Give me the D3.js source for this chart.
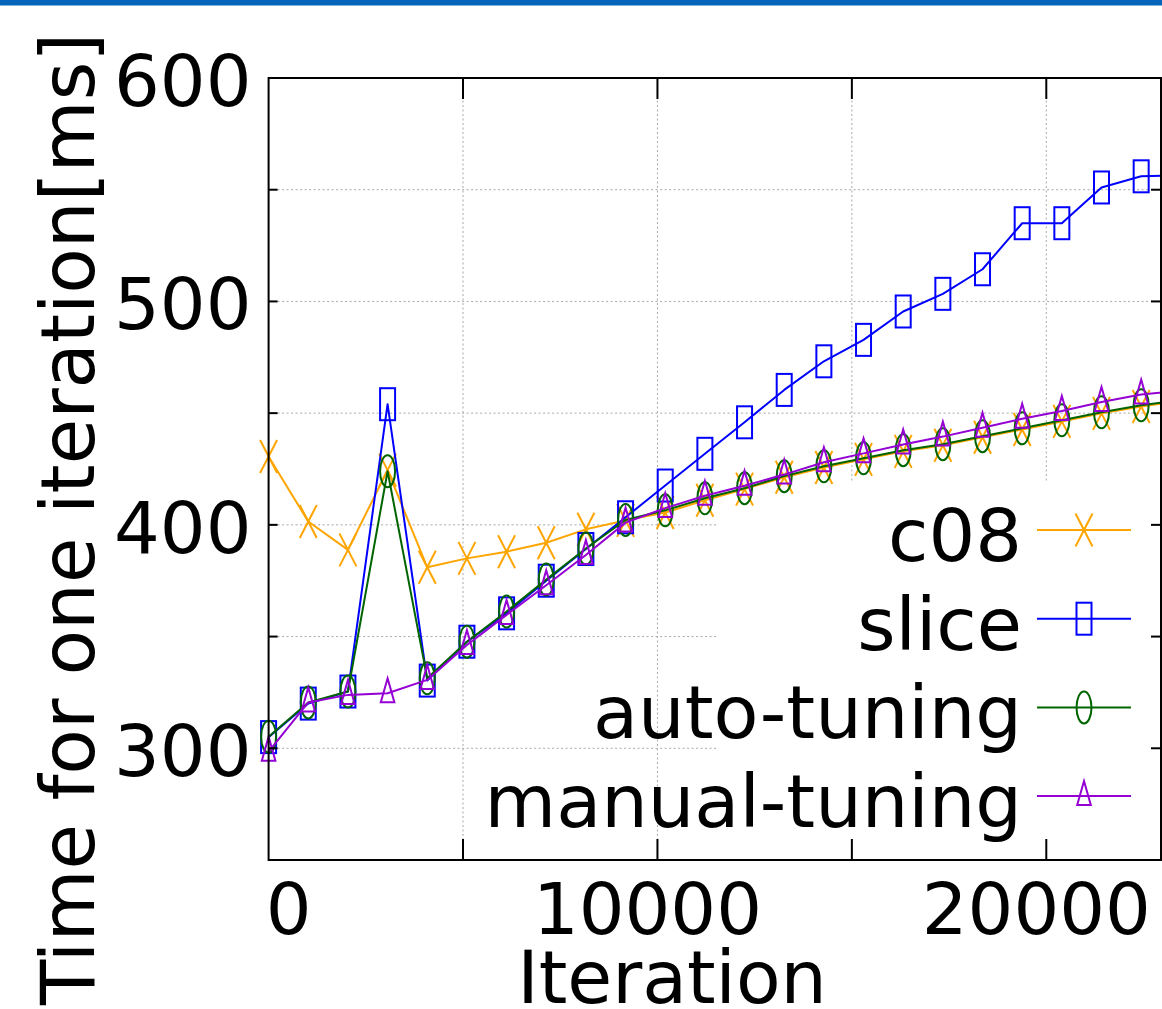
<!DOCTYPE html>
<html><head><meta charset="utf-8">
<script src="https://cdn.jsdelivr.net/npm/d3@7"></script>
<style>body{margin:0;background:#fff;} svg{display:block;} text{font-family:"DejaVu Sans",sans-serif;fill:#000;}</style>
</head><body>
<svg id="chart" width="1162" height="1009"></svg>
<script>
const iterations = [0,1020,2040,3060,4080,5100,6120,7140,8160,9180,10200,11220,12240,13260,14280,15300,16320,17340,18360,19380,20400,21420,22440,23460];
const c08 =          [430.6,401.5,388.8,424.5,381,385,388,392,398,402,405.5,411,416,421.3,425.7,429.3,432.9,435.6,439.2,442.7,446.3,449.9,453,455.5];
const slice =        [305,320,325.4,454,330.3,347.7,360.4,375,389.2,403.4,417.6,431.8,445.9,460.4,473.2,482.8,495.5,503.4,514.4,535,535,551,556,556.5];
const autoTuning =   [305.2,320.5,325.4,424,331.3,347.7,361.2,375.5,389.4,402.2,406.5,411.9,416.4,421.8,426.2,429.8,433.4,436.1,439.7,443.2,446.8,450.4,453.5,456];
const manualTuning = [298.5,320.5,323.9,324.6,330.6,346.2,359.7,373,386.5,401,407.5,413,417.5,422.5,428,432,436,439.5,443.5,447.5,451,455,458.3,460];
const seriesNames = ["c08","slice","auto-tuning","manual-tuning"];
const seriesColors = ["#FFA500","#0000FF","#006400","#9400D3"];
const seriesMarkers = ["x","square","ellipse","triangle"];
const yTicks = [250,300,350,400,450,500,550,600];
const yLabels = [300,400,500,600];
const xTicks = [0,5000,10000,15000,20000];
const xLabels = [0,10000,20000];
const xTitle = "Iteration";
const yTitle = "Time for one iteration[ms]";

const svg = d3.select("#chart");
const L=268.6, R=1161, T=78, B=860;
const x = d3.scaleLinear().domain([0,22950]).range([L,R]);
const y = d3.scaleLinear().domain([250,600]).range([B,T]);

// top blue bar
svg.append("rect").attr("x",0).attr("y",0).attr("width",1162).attr("height",5.5).attr("fill","#0565BA");

// grid
const grid = svg.append("g").attr("stroke","#a8a8a8").attr("stroke-width",1).attr("stroke-dasharray","2,2.5");
yTicks.filter(v=>v>250&&v<600).forEach(v=>{
  grid.append("line").attr("x1",L).attr("x2",R).attr("y1",y(v)).attr("y2",y(v));
});
xTicks.filter(v=>v>0).forEach(v=>{
  grid.append("line").attr("x1",x(v)).attr("x2",x(v)).attr("y1",T).attr("y2",B);
});

// legend box (opaque) drawn over grid
const legX0 = 718, legY0 = 483;
svg.append("rect").attr("x",legX0).attr("y",legY0).attr("width",R-legX0).attr("height",845-legY0).attr("fill","#fff");

function marker(g, type, cx, cy, color){
  if(type==="x"){
    g.append("path").attr("d",`M${cx-8.5},${cy-16.5}L${cx+8.5},${cy+16.5}M${cx-8.5},${cy+16.5}L${cx+8.5},${cy-16.5}`)
     .attr("stroke",color).attr("stroke-width",2).attr("fill","none");
  } else if(type==="square"){
    g.append("rect").attr("x",cx-7.5).attr("y",cy-16).attr("width",15).attr("height",32)
     .attr("stroke",color).attr("stroke-width",2).attr("fill","none");
  } else if(type==="ellipse"){
    g.append("ellipse").attr("cx",cx).attr("cy",cy).attr("rx",7.5).attr("ry",16)
     .attr("stroke",color).attr("stroke-width",2).attr("fill","none");
  } else {
    g.append("path").attr("d",`M${cx},${cy-15}L${cx+6.8},${cy+9}L${cx-6.8},${cy+9}Z`)
     .attr("stroke",color).attr("stroke-width",2).attr("fill","none");
  }
}

const allSeries = [c08, slice, autoTuning, manualTuning];
const line = d3.line().x((d,i)=>x(iterations[i])).y(d=>y(d));
allSeries.forEach((vals,si)=>{
  const g = svg.append("g");
  g.append("path").attr("d",line(vals)).attr("fill","none").attr("stroke",seriesColors[si]).attr("stroke-width",2).attr("stroke-linejoin","round");
  vals.forEach((v,i)=>{ if(x(iterations[i])<R+2) marker(g, seriesMarkers[si], x(iterations[i]), y(v), seriesColors[si]); });
});

// legend entries
const rowY0 = 530, rowStep = 88.7;
seriesNames.forEach((name,i)=>{
  const ry = rowY0 + i*rowStep;
  svg.append("text").attr("x",1022).attr("y",ry+31).attr("text-anchor","end").attr("font-size",73.5).text(name);
  svg.append("line").attr("x1",1037).attr("x2",1131).attr("y1",ry).attr("y2",ry).attr("stroke",seriesColors[i]).attr("stroke-width",2);
  marker(svg, seriesMarkers[i], 1084, ry, seriesColors[i]);
});

// frame
svg.append("rect").attr("x",L).attr("y",T).attr("width",R-L).attr("height",B-T).attr("fill","none").attr("stroke","#000").attr("stroke-width",2);

// ticks
const tk = svg.append("g").attr("stroke","#000").attr("stroke-width",2);
yTicks.filter(v=>v>250&&v<600).forEach(v=>{
  tk.append("line").attr("x1",L).attr("x2",L+9).attr("y1",y(v)).attr("y2",y(v));
  tk.append("line").attr("x1",R-10).attr("x2",R).attr("y1",y(v)).attr("y2",y(v));
});
xTicks.filter(v=>v>0).forEach(v=>{
  tk.append("line").attr("x1",x(v)).attr("x2",x(v)).attr("y1",B).attr("y2",B-21);
  tk.append("line").attr("x1",x(v)).attr("x2",x(v)).attr("y1",T).attr("y2",T+21);
});

// tick labels
yLabels.forEach(v=>{
  svg.append("text").attr("x",251.5).attr("y",y(v)+28).attr("text-anchor","end").attr("font-size",72).text(v);
});
xLabels.forEach(v=>{
  svg.append("text").attr("x",x(v)+(v===0?20:-10)).attr("y",934).attr("text-anchor","middle").attr("font-size",72).text(v);
});

// axis titles
svg.append("text").attr("x",672).attr("y",1003).attr("text-anchor","middle").attr("font-size",73).text(xTitle);
svg.append("text").attr("transform","translate(93.5,519) rotate(-90)").attr("text-anchor","middle").attr("font-size",74).text(yTitle);
</script>
</body></html>
